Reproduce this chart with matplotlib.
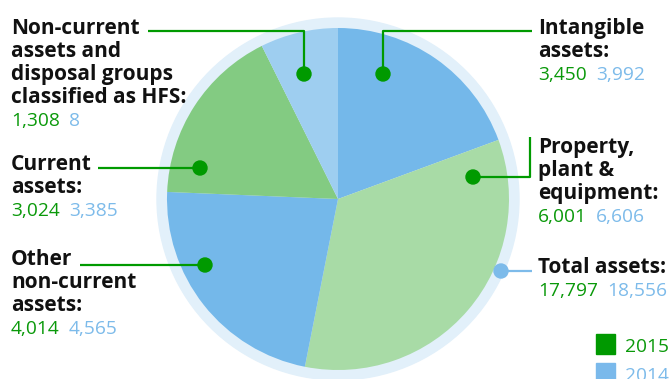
import matplotlib.pyplot as plt
from matplotlib.patches import Circle, Rectangle

plt.rcParams['font.family'] = ['Open Sans', 'DejaVu Sans']

# data (millions)
categories = ['Intangible\nassets:', 'Property,\nplant &\nequipment:', 'Other\nnon-current\nassets:',
              'Current\nassets:', 'Non-current\nassets and\ndisposal groups\nclassified as HFS:']
values_2015 = [3450, 6001, 4014, 3024, 1308]
values_2014 = [3992, 6606, 4565, 3385, 8]
total_2015 = 17797
total_2014 = 18556
years = ['2015', '2014']

slice_colors = ['#74b8ea', '#a8dba6', '#74b8ea', '#83cb82', '#9ecef0']
GREEN = '#0a990a'
BLUE = '#7dbbea'
LINE = '#009a00'

W, H = 671, 379
fig = plt.figure(figsize=(W / 100, H / 100), dpi=100)
ax = fig.add_axes([0, 0, 1, 1])


def Y(y):
    return H - y


cx, cy = 338, Y(199)
ax.add_patch(Circle((cx, cy), 181, color='#e2f0fa', zorder=0))
ax.pie(values_2015, colors=slice_colors, startangle=90, counterclock=False,
       center=(cx, cy), radius=171, wedgeprops=dict(linewidth=0))
ax.set_xlim(0, W)
ax.set_ylim(0, H)
ax.set_aspect('equal')
ax.axis('off')

fig.canvas.draw()
renderer = fig.canvas.get_renderer()

FS = 15
NFS = 13.8
LS = 23


def label(x, base, text, v15, v14):
    lines = text.split('\n')
    for i, ln in enumerate(lines):
        ax.text(x, Y(base + i * LS), ln, fontsize=FS, fontweight='bold', color='#111111',
                va='baseline', ha='left')
    nb = base + len(lines) * LS
    t = ax.text(x, Y(nb), v15, fontsize=NFS, color=GREEN, va='baseline', ha='left')
    bb = t.get_window_extent(renderer)
    ax.text(bb.x1 + 9, Y(nb), v14, fontsize=NFS, color=BLUE, va='baseline', ha='left')


def dot(x, y, c=LINE):
    ax.add_patch(Circle((x, Y(y)), 7, color=c, zorder=5))


def path(xs, ys, c=LINE):
    ax.plot(xs, [Y(v) for v in ys], color=c, lw=1.6, zorder=4, solid_capstyle='butt')


fmt = '{:,}'.format

# left side labels
label(11, 34, categories[4], fmt(values_2015[4]), fmt(values_2014[4]))
label(11, 170, categories[3], fmt(values_2015[3]), fmt(values_2014[3]))
label(11, 265, categories[2], fmt(values_2015[2]), fmt(values_2014[2]))
# right side labels
label(538, 34, categories[0], fmt(values_2015[0]), fmt(values_2014[0]))
label(538, 153, categories[1], fmt(values_2015[1]), fmt(values_2014[1]))
label(538, 273, 'Total assets:', fmt(total_2015), fmt(total_2014))

# leaders
path([148, 304, 304], [31, 31, 74]); dot(304, 74)
path([532, 383, 383], [31, 31, 74]); dot(383, 74)
path([98, 200], [168, 168]); dot(200, 168)
path([80, 205], [265, 265]); dot(205, 265)
path([473, 530, 530], [177, 177, 137]); dot(473, 177)
path([501, 532], [271, 271], c=BLUE); dot(501, 271, c=BLUE)

# legend
for i, (yr, c, tc) in enumerate(zip(years, ['#009900', '#7ab9eb'], [GREEN, BLUE])):
    top = 334 + i * 29
    ax.add_patch(Rectangle((596, Y(top + 20)), 19, 20, color=c, zorder=5))
    ax.text(625, Y(top + 18), yr, fontsize=NFS, color=tc, va='baseline', ha='left')

fig.savefig('out.png', dpi=100)
